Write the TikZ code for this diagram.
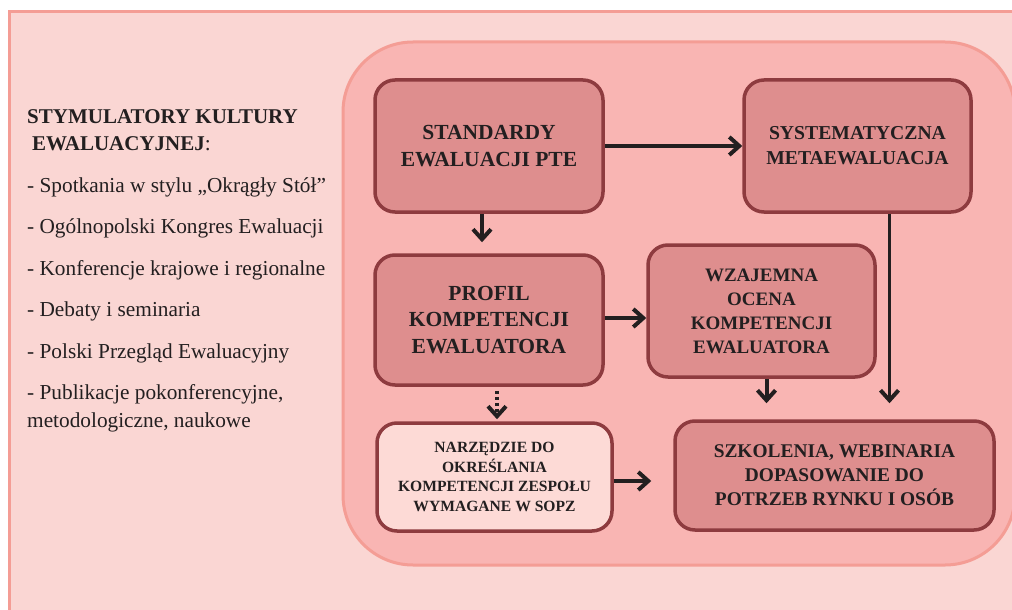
\documentclass[tikz,border=0pt]{standalone}
\usepackage{fontspec}
\setmainfont{Liberation Serif}
\usetikzlibrary{arrows.meta}
\definecolor{framefill}{HTML}{FAD6D3}
\definecolor{frameline}{HTML}{F49D95}
\definecolor{areafill}{HTML}{F9B5B3}
\definecolor{boxfill}{HTML}{DE8E8E}
\definecolor{boxline}{HTML}{8E3B3F}
\definecolor{lightfill}{HTML}{FDDAD6}
\definecolor{ink}{HTML}{231F20}
\tikzset{
  centered/.style = { align=center, anchor=center },
     panel/.style = { draw=boxline, fill=boxfill, line width=3.5, rounded corners=20,
                      centered, inner sep=0, text=ink },
  lightpanel/.style = { panel, fill=lightfill },
     arrow/.style = { line width=4, color=ink, -{Straight Barb[length=10,width=18,line width=4]} },
    darrow/.style = { arrow, dash pattern=on 3 off 3 },
  listtext/.style = { align=left, inner sep=0, text=ink, anchor=north west }
}

\begin{document}
\begin{tikzpicture}[x=1pt,y=-1pt]
  \useasboundingbox (0,0) rectangle (1012,610);
  \clip (0,0) rectangle (1012,610);

  % background frame and the rounded area
  \draw [line width=3, draw=frameline, fill=framefill] (9,12) rectangle (1040,640);
  \draw [line width=3, draw=frameline, fill=areafill, rounded corners=70] (343,42) rectangle (1015,565);

  % left column
  \node [listtext, font=\fontsize{21.3}{28}\selectfont] (stim) at (27,109)
    {{\fontsize{21}{27}\selectfont\bfseries STYMULATORY KULTURY}\\[-1pt]
     \hspace*{5pt}{\fontsize{21}{27}\selectfont\bfseries EWALUACYJNEJ}:\\[14pt]
     - Spotkania w stylu „Okrągły Stół”\\[13.5pt]
     - Ogólnopolski Kongres Ewaluacji\\[13.5pt]
     - Konferencje krajowe i regionalne\\[13.5pt]
     - Debaty i seminaria\\[13.5pt]
     - Polski Przegląd Ewaluacyjny\\[13.5pt]
     - Publikacje pokonferencyjne,\\
     metodologiczne, naukowe};

  % boxes
  \node [panel, minimum width=228, minimum height=132,
         font=\bfseries\fontsize{21.5}{27}\selectfont] (std) at (489,146)
    {STANDARDY\\EWALUACJI PTE};
  \node [panel, minimum width=227, minimum height=132,
         font=\bfseries\fontsize{19.7}{25}\selectfont] (sys) at (857.5,146)
    {SYSTEMATYCZNA\\METAEWALUACJA};
  \node [panel, minimum width=228, minimum height=130,
         font=\bfseries\fontsize{21.5}{26.5}\selectfont] (prof) at (489,320)
    {PROFIL\\KOMPETENCJI\\EWALUATORA};
  \node [panel, minimum width=227, minimum height=132,
         font=\bfseries\fontsize{19}{24}\selectfont] (wza) at (761.5,311)
    {WZAJEMNA\\OCENA\\KOMPETENCJI\\EWALUATORA};
  \node [lightpanel, minimum width=235, minimum height=108,
         font=\bfseries\fontsize{15.6}{19.5}\selectfont] (narz) at (494.5,477)
    {NARZĘDZIE DO\\OKREŚLANIA\\KOMPETENCJI ZESPOŁU\\WYMAGANE W SOPZ};
  \node [panel, minimum width=319, minimum height=109,
         font=\bfseries\fontsize{19.4}{24}\selectfont] (szk) at (834.5,475.5)
    {SZKOLENIA, WEBINARIA\\DOPASOWANIE DO\\POTRZEB RYNKU I OSÓB};

  % connectors
  \draw [arrow] (std) -- (sys);
  \draw [arrow, shorten >=11] ([xshift=-7]std.south) -- ([xshift=-7]prof.north);
  \draw [arrow] ([yshift=2]prof.east) -- ([yshift=2]prof.east -| wza.west);
  \draw [darrow, shorten <=4, shorten >=2] ([xshift=8]prof.south) -- ([xshift=8]prof.south |- narz.north);
  \draw [arrow, shorten >=16] ([xshift=5]wza.south) -- ([xshift=5]wza.south |- szk.north);
  \draw [arrow, line width=2.7, shorten >=16] ([xshift=32]sys.south) -- ([xshift=32]sys.south |- szk.north);
  \draw [arrow, shorten >=22] ([yshift=-4]narz.east) -- ([yshift=-4]narz.east -| szk.west);
\end{tikzpicture}
\end{document}
